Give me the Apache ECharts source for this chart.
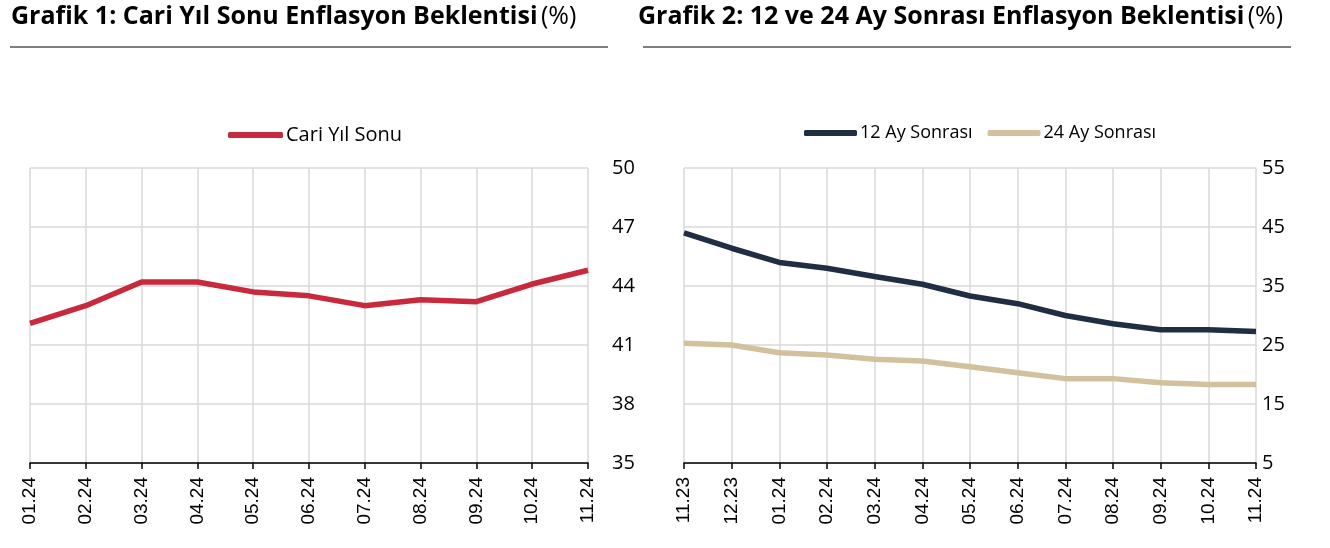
<!DOCTYPE html>
<html>
<head>
<meta charset="utf-8">
<script src="https://cdn.jsdelivr.net/npm/echarts@6/dist/echarts.min.js"></script>
<style>
	html, body { margin: 0; padding: 0; background: #fff; }
	#container { width: 1330px; height: 548px; }
</style>
</head>
<body>
<div id="container"></div>
<script>
	// Grafik 1 verileri
	var months1 = ['01.24','02.24','03.24','04.24','05.24','06.24','07.24','08.24','09.24','10.24','11.24'];
	var cariYil = [42.1, 43.0, 44.2, 44.2, 43.7, 43.5, 43.0, 43.3, 43.2, 44.1, 44.8];

	// Grafik 2 verileri
	var months2 = ['11.23','12.23','01.24','02.24','03.24','04.24','05.24','06.24','07.24','08.24','09.24','10.24','11.24'];
	var ay12 = [44.0, 41.4, 39.0, 38.0, 36.6, 35.3, 33.3, 32.0, 30.0, 28.6, 27.6, 27.6, 27.3];
	var ay24 = [25.3, 25.0, 23.7, 23.3, 22.6, 22.3, 21.3, 20.3, 19.3, 19.3, 18.6, 18.3, 18.3];

	var FONT = '"Open Sans", sans-serif';
	var XFONT = '"Liberation Sans", Arial, sans-serif';

	function xAxisOf(idx, data){
		return {
			type: 'category',
			gridIndex: idx,
			data: data,
			boundaryGap: false,
			axisLine: { lineStyle: { color: '#000', width: 1.5 } },
			axisTick: { show: true, length: 6, lineStyle: { color: '#000', width: 1.5 } },
			axisLabel: { rotate: 90, fontSize: 19, color: '#000', fontFamily: XFONT, margin: 14, interval: 0 },
			splitLine: { show: true, lineStyle: { color: '#d9d9d9', width: 1.5 } }
		};
	}

	function yAxisOf(idx, min, max, step, margin){
		return {
			type: 'value',
			gridIndex: idx,
			position: 'right',
			min: min, max: max, interval: step,
			axisLine: { show: false },
			axisTick: { show: false },
			axisLabel: { fontSize: 20, color: '#000', fontFamily: FONT, margin: margin },
			splitLine: { lineStyle: { color: '#d9d9d9', width: 1.5 } }
		};
	}

	function lineOf(name, data, color, idx){
		return {
			name: name,
			type: 'line',
			xAxisIndex: idx,
			yAxisIndex: idx,
			data: data,
			symbol: 'none',
			lineStyle: { color: color, width: 5.5 },
			itemStyle: { color: color }
		};
	}

	var myChart = echarts.init(document.getElementById('container'));
	var option = {
		animation: false,
		textStyle: { fontFamily: FONT },
		grid: [
			{ left: 30, right: 742, top: 168, bottom: 85 },
			{ left: 684, right: 74, top: 168, bottom: 85 }
		],
		legend: [
			{
				data: ['Cari Yıl Sonu'],
				left: 223, top: 120,
				itemWidth: 55, itemHeight: 6, icon: 'roundRect',
				textStyle: { fontSize: 20, color: '#000', fontFamily: FONT, padding: [0, 0, 0, -2] }
			},
			{
				data: ['12 Ay Sonrası', '24 Ay Sonrası'],
				left: 799, top: 119,
				itemWidth: 53, itemHeight: 6, icon: 'roundRect', itemGap: 15,
				textStyle: { fontSize: 18, color: '#000', fontFamily: FONT, padding: [0, 0, 0, -2] }
			}
		],
		xAxis: [ xAxisOf(0, months1), xAxisOf(1, months2) ],
		yAxis: [ yAxisOf(0, 35, 50, 3, 24), yAxisOf(1, 5, 55, 10, 6) ],
		series: [
			lineOf('Cari Yıl Sonu', cariYil, '#c8293c', 0),
			lineOf('12 Ay Sonrası', ay12, '#1f2e42', 1),
			lineOf('24 Ay Sonrası', ay24, '#d3c19e', 1)
		],
		graphic: [
			{
				type: 'text', left: 11, top: 4,
				style: {
					text: '{b|Grafik 1: Cari Yıl Sonu Enflasyon Beklentisi} {n|(%)}',
					rich: {
						b: { fontSize: 25, fontWeight: 'bold', fill: '#000', fontFamily: FONT },
						n: { fontSize: 25, fill: '#000', fontFamily: FONT }
					}
				}
			},
			{
				type: 'text', left: 638, top: 4,
				style: {
					text: '{b|Grafik 2: 12 ve 24 Ay Sonrası Enflasyon Beklentisi} {n|(%)}',
					rich: {
						b: { fontSize: 25, fontWeight: 'bold', fill: '#000', fontFamily: FONT },
						n: { fontSize: 25, fill: '#000', fontFamily: FONT }
					}
				}
			},
			{ type: 'line', shape: { x1: 10, y1: 47, x2: 608, y2: 47 }, style: { stroke: '#000', lineWidth: 1.2 } },
			{ type: 'line', shape: { x1: 643, y1: 47, x2: 1291, y2: 47 }, style: { stroke: '#000', lineWidth: 1.2 } }
		]
	};
	myChart.setOption(option);
</script>
</body>
</html>
